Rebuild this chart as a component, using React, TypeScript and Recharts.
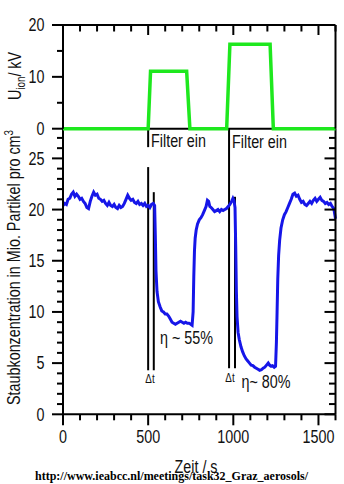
import React from "react";
import { LineChart, Line, XAxis, YAxis, ReferenceLine } from "recharts";

// ---- data ----
const concTimes = [
  0, 10, 20, 30, 40, 50, 60, 70, 80, 90, 100, 110, 120, 130, 140, 150, 160, 170, 180, 190,
  200, 210, 220, 230, 240, 250, 260, 270, 280, 290, 300, 310, 320, 330, 340, 350, 360, 370, 380, 390,
  400, 410, 420, 430, 440, 450, 460, 470, 480, 490, 500, 510, 520, 530, 538, 542, 546, 552, 560, 570,
  580, 590, 600, 610, 620, 630, 640, 650, 660, 670, 680, 690, 700, 710, 720, 730, 740, 750, 758, 764,
  768, 772, 776, 782, 790, 800, 810, 820, 830, 840, 848, 855, 862, 870, 880, 890, 900, 910, 920, 930,
  940, 950, 960, 970, 980, 990, 998, 1004, 1010, 1014, 1018, 1022, 1028, 1035, 1045, 1055, 1065, 1075, 1085, 1095,
  1105, 1115, 1125, 1135, 1145, 1155, 1165, 1175, 1185, 1195, 1205, 1213, 1220, 1230, 1240, 1248, 1253, 1257, 1261, 1266,
  1272, 1280, 1290, 1300, 1310, 1320, 1330, 1340, 1350, 1360, 1370, 1380, 1390, 1400, 1410, 1420, 1430, 1440, 1450, 1460,
  1470, 1480, 1490, 1500, 1510, 1520, 1530, 1540, 1550, 1560, 1570, 1580, 1590, 1600,
];
const concValues = [
  20.4, 20.6, 20.5, 21.0, 21.1, 21.5, 21.7, 21.3, 21.5, 21.3, 21.0, 21.1, 20.8, 20.6, 20.2, 20.1, 20.8, 21.3, 21.7, 21.4,
  21.5, 21.1, 21.0, 20.8, 20.9, 20.6, 20.4, 20.7, 20.4, 20.3, 20.5, 20.2, 20.1, 20.4, 20.2, 20.3, 20.6, 21.0, 21.4, 21.1,
  20.9, 21.0, 20.7, 20.6, 20.8, 20.5, 20.6, 20.4, 20.6, 20.3, 20.4, 20.2, 20.5, 20.6, 20.4, 17.5, 14.0, 12.0, 11.0, 10.5,
  10.1, 10.0, 9.8, 9.8, 9.6, 9.3, 9.0, 8.9, 8.8, 8.9, 9.0, 9.1, 9.0, 8.9, 9.0, 8.9, 8.9, 8.8, 8.7, 10.0,
  13.5, 16.0, 17.2, 18.0, 18.6, 19.0, 19.2, 19.5, 19.9, 20.3, 20.9, 20.8, 20.3, 20.2, 20.0, 19.8, 19.9, 20.0, 19.8, 20.0,
  19.9, 20.0, 20.1, 20.3, 20.5, 20.8, 21.1, 20.9, 20.2, 16.5, 12.0, 9.5, 8.0, 7.3, 6.6, 6.1, 5.7, 5.4, 5.2, 5.0,
  4.8, 4.75, 4.6, 4.5, 4.4, 4.3, 4.35, 4.5, 4.6, 4.8, 5.0, 4.8, 4.7, 4.75, 4.6, 4.7, 7.0, 10.0, 13.2, 15.5,
  17.0, 18.2, 19.0, 19.5, 19.8, 20.2, 20.6, 21.0, 21.5, 21.6, 21.3, 21.4, 21.0, 20.7, 20.8, 20.5, 20.4, 20.6, 20.8, 20.6,
  20.9, 21.1, 20.8, 21.0, 21.2, 20.9, 20.8, 20.6, 20.7, 20.5, 20.6, 20.3, 20.1, 19.1,
];
const voltTimes = [0, 500, 514, 726, 745, 961, 980, 1216, 1235, 1600];
const voltValues = [0, 0, 11.1, 11.1, 0, 0, 16.3, 16.3, 0, 0];

const xTicks = [0, 100, 200, 300, 400, 500, 600, 700, 800, 900, 1000, 1100, 1200, 1300, 1400, 1500, 1600];
const xLabelTicks = [0, 500, 1000, 1500];
const uTicks = [0, 5, 10, 15, 20];
const uLabelTicks = [0, 10, 20];
const cTicks = [0, 1, 2, 3, 4, 5, 6, 7, 8, 9, 10, 11, 12, 13, 14, 15, 16, 17, 18, 19, 20, 21, 22, 23, 24, 25, 26, 27];
const cLabelTicks = [0, 5, 10, 15, 20, 25];

// vertical marker lines (time, from, to) in concentration units
const markerTimes = [500, 500, 533, 975, 1010];
const markerFrom = [4.3, 26.1, 4.3, 4.5, 4.5];
const markerTo = [24.15, 27.9, 21.7, 27.9, 21.25];

const concData = concTimes.map((t, i) => ({ t, c: concValues[i] }));
const voltData = voltTimes.map((t, i) => ({ t, u: voltValues[i] }));

// ---- layout ----
const W = 344;
const H = 484;
const PL = 63;
const PR = 335.5;
const UT = 25;
const UB = 128.7;
const LB = 414.3;
const FONT = "'Liberation Sans', Arial, sans-serif";
const FS = 17.5;
const SX = 0.82; // narrow glyphs
const INK = "#000";

type NProps = {
  x: number;
  y: number;
  anchor?: "start" | "middle" | "end";
  size?: number;
  rotate?: boolean;
  dy?: string;
  children?: React.ReactNode;
};
const NText = ({ x, y, anchor = "start", size = FS, rotate = false, dy, children }: NProps) => (
  <g transform={`translate(${x},${y})${rotate ? " rotate(-90)" : ""} scale(${SX},1)`}>
    <text x={0} y={0} dy={dy} textAnchor={anchor} fontFamily={FONT} fontSize={size} fill="#111">
      {children}
    </text>
  </g>
);

const makeLeftTick = (labels: number[], majors: number[]) => (props: any) => {
  const { y, payload } = props;
  const v = payload.value;
  const major = majors.includes(v);
  return (
    <g>
      <line x1={PL - (major ? 11 : 6)} x2={PL} y1={y} y2={y} stroke={INK} strokeWidth={2} />
      {labels.includes(v) && (
        <NText x={PL - 18.5} y={y} dy="0.36em" anchor="end">
          {v}
        </NText>
      )}
    </g>
  );
};

const makeRightTick = (majors: number[]) => (props: any) => {
  const { y, payload } = props;
  const v = payload.value;
  const major = majors.includes(v);
  return <line x1={PR - (major ? 11 : 6.5)} x2={PR} y1={y} y2={y} stroke={INK} strokeWidth={2} />;
};

const TopTick = (props: any) => {
  const { x, payload } = props;
  const major = xLabelTicks.includes(payload.value);
  return <line x1={x} x2={x} y1={UT} y2={UT + (major ? 10 : 6.5)} stroke={INK} strokeWidth={2} />;
};

const BottomTick = (props: any) => {
  const { x, payload } = props;
  const v = payload.value;
  const major = xLabelTicks.includes(v);
  return (
    <g>
      <line x1={x} x2={x} y1={LB} y2={LB + (major ? 11 : 6)} stroke={INK} strokeWidth={2} />
      {major && (
        <NText x={x} y={437} dy="0.36em" anchor="middle">
          {v}
        </NText>
      )}
    </g>
  );
};

const UpperLeftTick = makeLeftTick(uLabelTicks, uLabelTicks);
const UpperRightTick = makeRightTick([10]);
const LowerLeftTick = makeLeftTick(cLabelTicks, cLabelTicks);
const LowerRightTick = makeRightTick(cLabelTicks);

const layer: React.CSSProperties = { position: "absolute", left: 0, top: 0 };
const AX = { stroke: INK, strokeWidth: 2 };

export default function App() {
  return (
    <div style={{ position: "absolute", left: 0, top: 0, width: W, height: H, background: "#fff", overflow: "hidden" }}>
      {/* lower panel: dust concentration */}
      <div style={layer}>
        <LineChart
          width={W}
          height={H}
          data={concData}
          margin={{ top: UB, right: W - PR - 1, bottom: H - LB - 1, left: PL - 1 }}
        >
          <XAxis
            xAxisId="b"
            dataKey="t"
            type="number"
            domain={[0, 1600]}
            ticks={xTicks}
            interval={0}
            height={1}
            orientation="bottom"
            axisLine={AX}
            tickLine={false}
            tick={BottomTick}
          />
          <YAxis
            yAxisId="l"
            type="number"
            domain={[0, 27.9]}
            allowDataOverflow
            ticks={cTicks}
            interval={0}
            width={1}
            orientation="left"
            axisLine={AX}
            tickLine={false}
            tick={LowerLeftTick}
          />
          <YAxis
            yAxisId="r"
            type="number"
            domain={[0, 27.9]}
            allowDataOverflow
            ticks={cTicks}
            interval={0}
            width={1}
            orientation="right"
            axisLine={AX}
            tickLine={false}
            tick={LowerRightTick}
          />
          {markerTimes.map((t, i) => (
            <ReferenceLine
              key={"m" + i}
              xAxisId="b"
              yAxisId="l"
              segment={[
                { x: t, y: markerFrom[i] },
                { x: t, y: markerTo[i] },
              ]}
              stroke={INK}
              strokeWidth={2}
              ifOverflow="visible"
            />
          ))}
          <Line
            xAxisId="b"
            yAxisId="l"
            dataKey="c"
            type="linear"
            stroke="#1616e8"
            strokeWidth={3}
            dot={false}
            isAnimationActive={false}
          />
        </LineChart>
      </div>

      {/* upper panel: ionisation voltage */}
      <div style={layer}>
        <LineChart
          width={W}
          height={H}
          data={voltData}
          margin={{ top: UT - 1, right: W - PR - 1, bottom: H - UB, left: PL - 1 }}
        >
          <XAxis
            xAxisId="t"
            dataKey="t"
            type="number"
            domain={[0, 1600]}
            ticks={xTicks}
            interval={0}
            height={1}
            orientation="top"
            axisLine={AX}
            tickLine={false}
            tick={TopTick}
          />
          <YAxis
            yAxisId="l"
            type="number"
            domain={[0, 20]}
            ticks={uTicks}
            interval={0}
            width={1}
            orientation="left"
            axisLine={AX}
            tickLine={false}
            tick={UpperLeftTick}
          />
          <YAxis
            yAxisId="r"
            type="number"
            domain={[0, 20]}
            ticks={uTicks}
            interval={0}
            width={1}
            orientation="right"
            axisLine={AX}
            tickLine={false}
            tick={UpperRightTick}
          />
          <ReferenceLine xAxisId="t" yAxisId="l" y={0} stroke={INK} strokeWidth={2} />
          <Line
            xAxisId="t"
            yAxisId="l"
            dataKey="u"
            type="linear"
            stroke="#1ee81e"
            strokeWidth={3.5}
            dot={false}
            isAnimationActive={false}
          />
        </LineChart>
      </div>

      {/* annotations */}
      <svg width={W} height={H} style={{ ...layer, pointerEvents: "none" }}>
        <NText x={151} y={146.5}>Filter ein</NText>
        <NText x={232} y={148.3}>Filter ein</NText>
        <NText x={160} y={344}>η ~ 55%</NText>
        <NText x={241.5} y={388}>η~ 80%</NText>
        <NText x={196} y={472.5} anchor="middle">Zeit / s</NText>
        <NText x={21} y={76} anchor="middle" rotate>
          U<tspan fontSize={12} dy={4}>ion</tspan>
          <tspan dy={-4}>/ kV</tspan>
        </NText>
        <NText x={20} y={267.5} anchor="middle" rotate>
          Staubkonzentration in Mio. Partikel pro cm<tspan fontSize={12} dy={-7}>3</tspan>
        </NText>
        <NText x={150} y={383.3} anchor="middle" size={12}>Δt</NText>
        <NText x={230} y={381.7} anchor="middle" size={12}>Δt</NText>
        <text
          x={35}
          y={479.5}
          fontFamily="'Liberation Serif', 'Times New Roman', serif"
          fontWeight="bold"
          fontSize={13.5}
          textLength={273}
          lengthAdjust="spacingAndGlyphs"
          fill="#000"
        >
          http://www.ieabcc.nl/meetings/task32_Graz_aerosols/
        </text>
      </svg>
    </div>
  );
}
